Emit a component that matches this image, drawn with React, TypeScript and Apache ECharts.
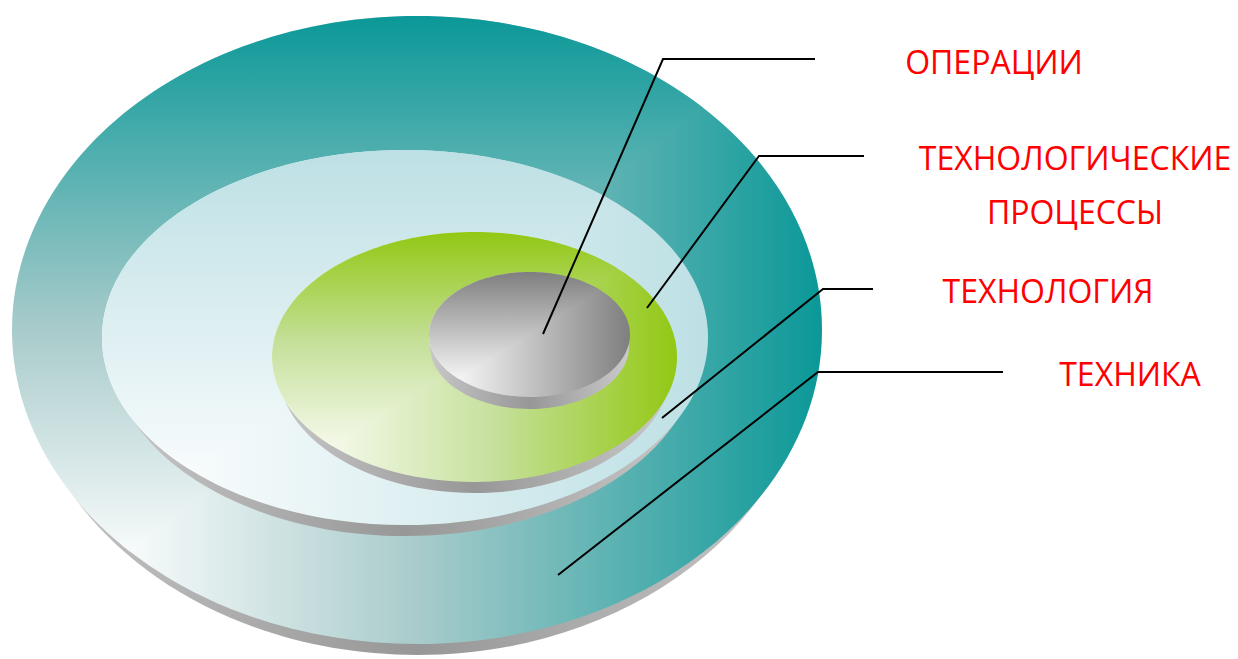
import React, { useEffect, useRef } from "react";
import * as echarts from "echarts";

// ---- content (text) ----
const LABELS: string[] = ["ОПЕРАЦИИ", "ТЕХНОЛОГИЧЕСКИЕ\nПРОЦЕССЫ", "ТЕХНОЛОГИЯ", "ТЕХНИКА"];
const LABEL_COLOR = "#ff0000";

// ---- layout (positions/sizes) ----
// disks from bottom layer to top layer; d = thickness, s = perspective shrink of the lower rim
const DISKS = [
  { cx: 417, cy: 330, rx: 405, ry: 314, d: 11, s: 10 },
  { cx: 405, cy: 337.5, rx: 303, ry: 187.5, d: 11, s: 9 },
  { cx: 474.5, cy: 357, rx: 202.5, ry: 125, d: 11, s: 6 },
  { cx: 529.5, cy: 334.5, rx: 100.5, ry: 62.5, d: 12, s: 1 },
];
const DISK_STOPS: [number, string][][] = [
  [[0, "#ffffff"], [0.15, "#f6fafa"], [0.5, "#a9cbcb"], [1, "#0b9898"]],
  [[0, "#ffffff"], [0.15, "#f7fbfc"], [1, "#bde0e4"]],
  [[0, "#ffffff"], [0.15, "#f4f9e8"], [0.55, "#c6e09c"], [1, "#92c814"]],
  [[0, "#ffffff"], [0.15, "#f4f4f4"], [1, "#7f7f7f"]],
];
const SIDE_STOPS: [number, string][] = [[0, "#c8c8c8"], [0.5, "#979797"], [1, "#cacaca"]];

// leader lines: label index -> polyline
const LEADERS: number[][][] = [
  [[543, 334], [663, 59], [815, 59]],
  [[647, 308], [759, 156], [864, 156]],
  [[662, 418], [823, 289], [873, 289]],
  [[558, 575], [818, 372], [1003, 372]],
];
const LABEL_POS: number[][] = [
  [994, 61],
  [1075, 184],
  [1048, 290],
  [1130, 373],
];

function grad(x: number, y: number, x2: number, y2: number, stops: [number, string][]) {
  return {
    type: "linear",
    x, y, x2, y2,
    global: true,
    colorStops: stops.map(([offset, color]) => ({ offset, color })),
  };
}

function buildElements() {
  const els: any[] = [];
  let z = 1;
  DISKS.forEach((k, i) => {
    const stops = DISK_STOPS[i];
    const side = grad(k.cx - k.rx, 0, k.cx + k.rx, 0, SIDE_STOPS);
    // side (extrusion rim)
    els.push({
      type: "ellipse", z: z++, silent: true,
      shape: { cx: k.cx, cy: k.cy + k.d, rx: k.rx - k.s, ry: k.ry },
      style: { fill: side },
    });
    // face, horizontal part of corner gradient
    els.push({
      type: "ellipse", z: z++, silent: true,
      shape: { cx: k.cx, cy: k.cy, rx: k.rx, ry: k.ry },
      style: { fill: grad(k.cx - k.rx, 0, k.cx + k.rx, 0, stops) },
    });
    // face, vertical part (upper-left half)
    const pts: number[][] = [];
    const N = 120;
    for (let j = 0; j <= N; j++) {
      const th = ((135 + (180 * j) / N) * Math.PI) / 180;
      pts.push([k.cx + k.rx * Math.cos(th), k.cy + k.ry * Math.sin(th)]);
    }
    els.push({
      type: "polygon", z: z++, silent: true,
      shape: { points: pts },
      style: { fill: grad(0, k.cy + k.ry, 0, k.cy - k.ry, stops) },
    });
  });
  LEADERS.forEach((pts) => {
    els.push({
      type: "polyline", z: z++, silent: true,
      shape: { points: pts },
      style: { stroke: "#000000", lineWidth: 2, fill: null },
    });
  });
  LABELS.forEach((t, i) => {
    els.push({
      type: "text", z: z++, silent: true,
      x: LABEL_POS[i][0], y: LABEL_POS[i][1],
      style: {
        text: t,
        fill: LABEL_COLOR,
        fontFamily: '"Open Sans"',
        fontSize: 32,
        lineHeight: 54,
        align: "center",
        verticalAlign: "middle",
      },
    });
  });
  return els;
}

export default function App() {
  const ref = useRef<HTMLDivElement>(null);
  useEffect(() => {
    if (!ref.current) return;
    const chart = echarts.init(ref.current, undefined, { renderer: "svg" });
    chart.setOption({
      animation: false,
      backgroundColor: "#ffffff",
      graphic: { elements: buildElements() },
    });
    return () => chart.dispose();
  }, []);
  return (
    <div
      ref={ref}
      style={{ position: "absolute", left: 0, top: 0, width: 1238, height: 659 }}
    />
  );
}
